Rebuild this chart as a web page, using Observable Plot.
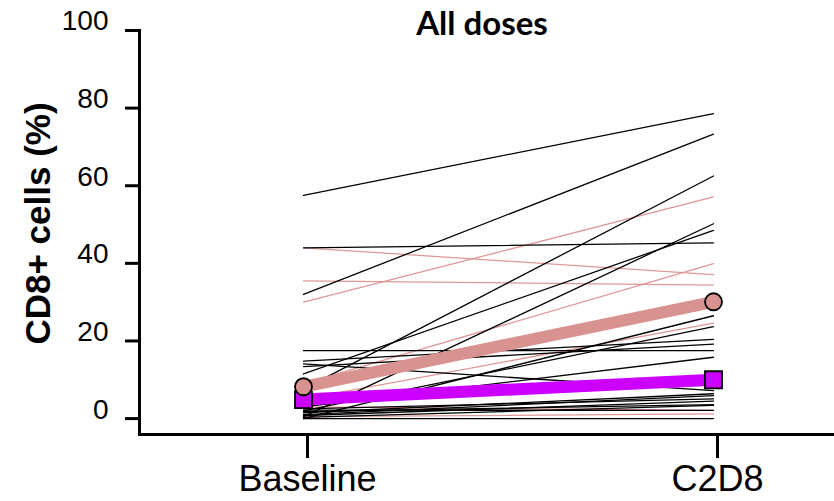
<!DOCTYPE html>
<html>
<head>
<meta charset="utf-8">
<script src="https://cdn.jsdelivr.net/npm/d3@7"></script>
<script src="https://cdn.jsdelivr.net/npm/@observablehq/plot@0.6"></script>
<style>
  html, body { margin: 0; padding: 0; background: #fff; }
  #chart { width: 834px; height: 501px; overflow: hidden; }
</style>
</head>
<body>
<div id="chart"></div>
<script>
// ---- Data ----
const timepoints = ["Baseline", "C2D8"];
const yTicks = [0, 20, 40, 60, 80, 100];

// individual patients, black lines
const blackBaseline = [57.5, 32, 7.6, 0.5, 11.5, 44, 0, 2, 14.8, 13.4, 17.5, 3, 14.1, 1.5, 1, 2.5, 0.8, 1.8, 0.3, 2.2, 0];
const blackC2D8     = [78.6, 73.3, 62.5, 50.2, 48.5, 45.3, 26.5, 23.7, 20.4, 19.2, 17.5, 15.8, 7.2, 6.4, 5.9, 5.1, 4.5, 3.6, 3.4, 2.1, 0];

// individual patients, pink lines
const pinkBaseline = [44, 35.5, 30, 9, 5, 3, 0.5];
const pinkC2D8     = [37.1, 34.4, 57.1, 39.9, 24.6, 2.1, 1.2];

// summary lines
const pinkMean    = [8.2, 30.1];
const magentaMean = [4.9, 10.0];

const title = "All doses";
const yLabel = "CD8+ cells (%)";

// ---- Build tables ----
function pairs(base, end, prefix) {
  const rows = [];
  base.forEach((b, i) => {
    rows.push({id: prefix + i, t: timepoints[0], v: b});
    rows.push({id: prefix + i, t: timepoints[1], v: end[i]});
  });
  return rows;
}
const blackRows = pairs(blackBaseline, blackC2D8, "b");
const pinkRows = pairs(pinkBaseline, pinkC2D8, "p");
const pinkMeanRows = timepoints.map((t, i) => ({t, v: pinkMean[i]}));
const magentaRows = timepoints.map((t, i) => ({t, v: magentaMean[i]}));

const PINK_THIN = "#df9896";
const PINK_MEAN = "#d8928f";
const MAGENTA = "#cc00ff";

const chart = Plot.plot({
  width: 834,
  height: 501,
  marginLeft: 139,
  marginRight: 0,
  marginTop: 30,
  marginBottom: 67,
  style: {fontFamily: "'Liberation Sans', Arial, sans-serif", background: "white", color: "black"},
  x: {type: "point", domain: timepoints, range: [303, 713], padding: 0},
  y: {domain: [-4.1, 100]},
  marks: [
    Plot.frame({anchor: "left", stroke: "black", strokeWidth: 3}),
    Plot.frame({anchor: "bottom", stroke: "black", strokeWidth: 3}),
    Plot.axisY({ticks: yTicks, tickSize: 14, tickFormat: () => "", strokeWidth: 3, label: null}),
    Plot.axisY({ticks: yTicks, tickSize: 0, tickPadding: 31, dy: -9, fontSize: 28, label: null}),
    Plot.axisX({tickSize: 24, tickPadding: 7, fontSize: 36, strokeWidth: 3, label: null, dx: 4}),
    Plot.line(pinkRows, {x: "t", y: "v", z: "id", stroke: PINK_THIN, strokeWidth: 1.3}),
    Plot.line(blackRows, {x: "t", y: "v", z: "id", stroke: "black", strokeWidth: 1.3}),
    Plot.line(magentaRows, {x: "t", y: "v", stroke: MAGENTA, strokeWidth: 12}),
    Plot.dot(magentaRows, {x: "t", y: "v", symbol: "square", r: 9.6, fill: MAGENTA, stroke: "black", strokeWidth: 1.8}),
    Plot.line(pinkMeanRows, {x: "t", y: "v", stroke: PINK_MEAN, strokeWidth: 12}),
    Plot.dot(pinkMeanRows, {x: "t", y: "v", r: 8.5, fill: PINK_MEAN, stroke: "black", strokeWidth: 1.8}),
    Plot.text([yLabel], {frameAnchor: "left", textAnchor: "middle", rotate: -90, dx: -101, dy: -9, fontSize: 35, fontWeight: "bold", fill: "black"}),
    Plot.text([title], {frameAnchor: "top", dx: -5, dy: -6, lineAnchor: "middle", fontSize: 33, fontWeight: "bold", fontFamily: "Lato, 'Open Sans', sans-serif", fill: "black"})
  ]
});
document.getElementById("chart").appendChild(chart);
</script>
</body>
</html>
